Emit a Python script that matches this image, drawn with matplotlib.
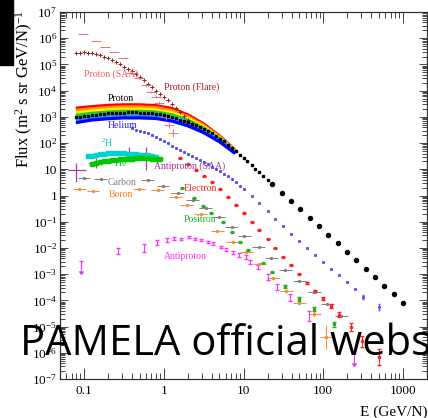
import numpy as np
import matplotlib.pyplot as plt
from matplotlib.ticker import LogLocator, FuncFormatter, NullFormatter
from matplotlib.patches import Rectangle

plt.rcParams['font.family'] = ['Liberation Serif', 'DejaVu Serif']
plt.rcParams['mathtext.fontset'] = 'custom'
plt.rcParams['mathtext.rm'] = 'Liberation Serif'
plt.rcParams['mathtext.it'] = 'Liberation Serif:italic'

# kinetic energy in GeV/n, flux in (m^2 s sr GeV/n)^-1

# proton, low energy (dense points)
proton_E = [0.0794, 0.0891, 0.1, 0.112, 0.126, 0.141, 0.158, 0.178, 0.2, 0.224,
            0.251, 0.282, 0.316, 0.355, 0.398, 0.447, 0.501, 0.562, 0.631, 0.708,
            0.794, 0.891, 1.0, 1.12, 1.26, 1.41, 1.58, 1.78, 2.0, 2.24,
            2.51, 2.82, 3.16, 3.55, 3.98, 4.47, 5.01, 5.62, 6.31, 7.08,
            7.94, 8.91, 10.0, 11.2, 12.6, 14.1, 15.8, 17.8, 20.0]
proton_F = [977, 1023, 1072, 1122, 1175, 1230, 1288, 1318, 1349, 1380,
            1413, 1445, 1462, 1479, 1479, 1479, 1462, 1445, 1413, 1380,
            1318, 1259, 1175, 1072, 977, 871, 776, 692, 617, 550,
            479, 407, 347, 288, 234, 186, 148, 115, 87.1, 66.1,
            49.0, 36.3, 26.9, 20.0, 14.5, 10.5, 7.59, 5.50, 3.98]

# proton, high energy
proton_hi_E = [23.0, 30.1, 39.4, 51.6, 67.6, 88.5, 116, 152, 199, 260, 340, 446, 583, 764, 1000]
proton_hi_F = [2.7, 1.3, 0.62, 0.30, 0.14, 0.066, 0.032, 0.015, 7.2e-3, 3.5e-3,
               1.6e-3, 7.8e-4, 3.6e-4, 1.7e-4, 8.0e-5]

# proton spectra for successive periods (solar modulation band)
band_E = [0.079, 0.126, 0.2, 0.316, 0.5, 0.79, 1.26, 2.0, 3.16, 5.0, 7.9]
band_F = [
    [2140, 2450, 2750, 2880, 2880, 2690, 2090, 1200, 537, 186, 52.5],
    [1740, 2020, 2260, 2380, 2380, 2230, 1740, 1020, 473, 171, 50.0],
    [1400, 1660, 1860, 1960, 1960, 1850, 1450, 870, 417, 157, 48.0],
    [1135, 1365, 1530, 1620, 1620, 1530, 1200, 741, 367, 145, 45.7],
    [918, 1120, 1260, 1340, 1340, 1270, 1000, 631, 324, 133, 43.6],
    [745, 923, 1035, 1100, 1100, 1050, 832, 537, 285, 122, 41.7],
    [603, 759, 851, 912, 912, 871, 692, 457, 251, 112, 39.8],
]
band_colors = ['#ff0000', '#ff9900', '#ffee00', '#22cc22', '#00e5ff', '#2299ff', '#0000ff']

# solar flare protons (13 Dec 2006)
flare_E = [0.0794, 0.0891, 0.1, 0.112, 0.126, 0.141, 0.158, 0.178, 0.2, 0.224,
           0.251, 0.282, 0.316, 0.355, 0.398, 0.447, 0.501, 0.562, 0.631, 0.708,
           0.794, 0.891, 1.0, 1.12, 1.26, 1.41, 1.58, 1.78, 2.0, 2.24, 2.51]
flare_F = [2.63e5, 2.82e5, 2.88e5, 2.85e5, 2.69e5, 2.51e5, 2.29e5, 2.0e5, 1.70e5, 1.45e5,
           1.23e5, 1.02e5, 8.3e4, 6.8e4, 5.4e4, 4.3e4, 3.3e4, 2.45e4, 1.82e4, 1.35e4,
           9.8e3, 7.2e3, 5.75e3, 4.4e3, 3.1e3, 2.14e3, 1.51e3, 1.07e3, 776, 575, 447]

# trapped protons in the South Atlantic Anomaly
saa_E = [0.097, 0.141, 0.183, 0.237, 0.307, 0.387, 0.487, 0.596, 0.688, 0.794,
         0.866, 0.944, 1.06, 1.155, 1.30]
saa_F = [1.45e6, 7.8e5, 4.6e5, 2.95e5, 1.74e5, 4.7e4, 3.0e4, 1.6e4, 8.9e3, 5.8e3,
         3.4e3, 2.2e3, 980, 490, 240]
saa_dex = [0, 0, 0, 0, 0, 0.04, 0.04, 0.05, 0.05, 0.06, 0.07, 0.08, 0.1, 0.12, 0.14]

# trapped antiprotons (SAA)
pbar_saa_E = [0.08, 0.14, 0.37, 0.60]
pbar_saa_Elo = [0.063, 0.115, 0.29, 0.49]
pbar_saa_Ehi = [0.107, 0.174, 0.52, 0.84]
pbar_saa_F = [9.3, 17, 42, 29.5]
pbar_saa_Flo = [3.2, 11, 22, 9.3]
pbar_saa_Fhi = [17, 27, 71, 71]

# helium
helium_E = [0.398, 0.447, 0.501, 0.562, 0.631, 0.708, 0.794, 0.891, 1.0, 1.12,
            1.26, 1.41, 1.58, 1.78, 2.0, 2.24, 2.51, 2.82, 3.16, 3.55,
            3.98, 4.47, 5.01, 5.62, 6.31, 7.08, 7.94, 8.91, 10.0, 12.6,
            15.8, 20.0, 25.1, 31.6, 39.8, 50.1, 63.1, 79.4, 100, 126,
            158, 200, 251, 316, 501]
helium_F = [363, 327, 295, 266, 240, 209, 178, 148, 120, 97.7,
            79.4, 66.8, 56.2, 47.3, 39.8, 33.1, 27.5, 22.9, 19.1, 15.5,
            12.6, 10.2, 8.32, 6.68, 5.37, 4.17, 3.16, 2.37, 1.78, 0.977,
            0.513, 0.263, 0.132, 0.066, 0.0347, 0.0186, 0.0100, 5.37e-3, 2.95e-3, 1.62e-3,
            8.9e-4, 4.9e-4, 2.63e-4, 1.35e-4, 5.6e-5]
helium_dex = [0] * 43 + [0.08, 0.12]

# deuterium and helium-3
h2_E = [0.112, 0.126, 0.141, 0.158, 0.178, 0.2, 0.224, 0.251, 0.282, 0.316,
        0.355, 0.398, 0.447, 0.501, 0.562, 0.631, 0.708, 0.794]
h2_F = [30.9, 33.1, 35.5, 37.2, 38.9, 40.7, 41.7, 41.7, 41.2, 40.7,
        39.8, 38.5, 37.2, 36.3, 35.1, 33.9, 31.6, 29.5]
he3_E = [0.126, 0.141, 0.158, 0.178, 0.2, 0.224, 0.251, 0.282, 0.316, 0.355,
         0.398, 0.447, 0.501, 0.562, 0.631, 0.708, 0.794, 0.891]
he3_F = [16.6, 17.8, 19.1, 20.4, 21.4, 22.4, 23.4, 24.0, 24.5, 25.1,
         25.7, 26.0, 26.3, 26.3, 26.0, 25.7, 25.1, 24.0]

# carbon and boron
carbon_E = [0.1, 0.162, 0.63, 0.98, 1.5, 2.3, 3.35, 4.9, 7.1, 10.2,
            15.5, 22.4, 33.5, 50, 77.6, 112, 168]
carbon_F = [4.6, 4.3, 3.9, 2.3, 1.23, 0.66, 0.33, 0.15, 0.062, 0.028,
            0.0107, 4.1e-3, 1.4e-3, 5.4e-4, 2.0e-4, 7.1e-5, 2.5e-5]
boron_E = [0.087, 0.13, 0.49, 0.84, 1.41, 1.94, 2.9, 4.7, 7.3, 10.9,
           15.8, 23.7, 34.5, 50, 77, 109]
boron_F = [1.75, 1.48, 1.75, 1.62, 0.87, 0.43, 0.19, 0.044, 0.017, 6.9e-3,
           2.4e-3, 7.0e-4, 2.2e-4, 7.8e-5, 3.0e-5, 4.0e-6]
boron_dex = [0, 0, 0, 0, 0, 0, 0, 0, 0, 0, 0, 0.05, 0.06, 0.08, 0.12, 0.45]

# electrons and positrons
electron_E = [1.58, 2.0, 2.51, 3.16, 3.98, 5.01, 6.31, 7.94, 10.0, 12.6,
              15.8, 20.0, 25.1, 31.6, 39.8, 50.1, 63.1, 79.4, 100, 126,
              158, 224, 309, 501]
electron_F = [26.3, 16.6, 9.77, 5.62, 3.16, 1.70, 0.871, 0.427, 0.209, 0.0977,
              0.0468, 0.0219, 0.0102, 4.68e-3, 2.14e-3, 9.8e-4, 4.57e-4, 2.24e-4, 1.17e-4, 6.0e-5,
              2.8e-5, 9.5e-6, 2.75e-6, 6.8e-7]
electron_dex = [0, 0, 0, 0, 0, 0, 0, 0, 0, 0, 0, 0, 0, 0, 0, 0, 0.04, 0.05, 0.06, 0.08,
                0.1, 0.15, 0.2, 0.3]
positron_E = [1.68, 2.37, 3.09, 3.89, 5.50, 7.24, 9.12, 11.5, 17.4, 22.9,
              33.5, 50.1, 77.6, 138]
positron_F = [1.91, 0.794, 0.398, 0.214, 0.10, 0.0398, 0.0166, 8.3e-3, 2.63e-3, 1.2e-3,
              3.47e-4, 1.12e-4, 4.57e-5, 1.23e-5]
positron_dex = [0, 0, 0, 0, 0, 0, 0, 0, 0, 0, 0.05, 0.06, 0.08, 0.1]

# antiprotons (first and last are upper limits)
pbar_E = [0.27, 0.56, 0.82, 1.09, 1.33, 1.63, 2.05, 2.44, 2.9, 3.55,
          4.2, 5.2, 5.96, 7.3, 8.7, 10.6, 12.2, 15, 20, 26.6,
          38.7, 67]
pbar_F = [7.6e-3, 9.8e-3, 1.66e-2, 2.0e-2, 2.34e-2, 2.19e-2, 2.57e-2, 2.19e-2, 2.0e-2, 1.66e-2,
          1.51e-2, 1.07e-2, 8.9e-3, 6.9e-3, 5.4e-3, 4.5e-3, 2.9e-3, 1.86e-3, 7.8e-4, 3.2e-4,
          1.3e-4, 2.5e-5]
pbar_dex = [0.12, 0.15, 0.1, 0.08, 0.06, 0.05, 0.05, 0.05, 0.05, 0.05,
            0.05, 0.05, 0.06, 0.06, 0.07, 0.08, 0.08, 0.09, 0.1, 0.12,
            0.14, 0.2]
pbar_ul_E = [0.092, 245]
pbar_ul_F = [3.2e-3, 1.0e-6]


def log_err(vals, dex):
    vals = np.asarray(vals, float)
    dex = np.asarray(dex, float)
    return [vals - vals / 10**dex, vals * 10**dex - vals]


fig = plt.figure(figsize=(4.28, 4.18), dpi=100)
ax = fig.add_axes([60 / 428, 1 - 379 / 418, 367 / 428, 367 / 418])
ax.set_xscale('log')
ax.set_yscale('log')
ax.set_xlim(0.05, 2000)
ax.set_ylim(1e-7, 1e7)

# modulation band, red (2006) on top to blue (2009) at the bottom
for row, c in zip(band_F, band_colors):
    ax.plot(band_E, row, color=c, lw=2.3, solid_capstyle='butt', zorder=2)

ax.plot(proton_E, proton_F, ls='none', marker='s', ms=1.7, color='black', zorder=4)
ax.plot(proton_hi_E, proton_hi_F, ls='none', marker='o', ms=2.9, color='black', zorder=4)

ax.plot(flare_E, flare_F, ls='none', marker='+', ms=2.6, mew=0.7, color='#a01515', zorder=3)
ax.errorbar(saa_E, saa_F, xerr=log_err(saa_E, [0.06] * len(saa_E)), yerr=log_err(saa_F, saa_dex),
            fmt='none', ecolor='#f07070', elinewidth=0.7, zorder=3)

ax.errorbar(pbar_saa_E, pbar_saa_F,
            xerr=[np.subtract(pbar_saa_E, pbar_saa_Elo), np.subtract(pbar_saa_Ehi, pbar_saa_E)],
            yerr=[np.subtract(pbar_saa_F, pbar_saa_Flo), np.subtract(pbar_saa_Fhi, pbar_saa_F)],
            fmt='none', ecolor='#a040a0', elinewidth=0.9, zorder=3)

ax.errorbar(helium_E, helium_F, yerr=log_err(helium_F, helium_dex), fmt='s', ms=1.1,
            color='#5050ff', elinewidth=0.7, capsize=1, zorder=3)
ax.plot(h2_E, h2_F, ls='none', marker='s', ms=2.2, color='#00d0d0', zorder=3)
ax.plot(he3_E, he3_F, ls='none', marker='s', ms=2.2, color='#00c800', zorder=3)

ax.errorbar(carbon_E, carbon_F, xerr=log_err(carbon_E, [0.08] * len(carbon_E)),
            fmt='s', ms=1.2, color='#808080', elinewidth=0.7, capsize=0, zorder=3)
ax.errorbar(boron_E, boron_F, xerr=log_err(boron_E, [0.08] * len(boron_E)),
            yerr=log_err(boron_F, boron_dex),
            fmt='s', ms=1.2, color='#ff8a30', elinewidth=0.7, capsize=0, zorder=3)

ax.errorbar(electron_E, electron_F, yerr=log_err(electron_F, electron_dex),
            fmt='s', ms=1.4, color='#ff2020', elinewidth=0.7, capsize=1.2, zorder=3)
ax.errorbar(positron_E, positron_F, yerr=log_err(positron_F, positron_dex),
            fmt='s', ms=1.4, color='#20b020', elinewidth=0.7, capsize=1.2, zorder=3)

ax.errorbar(pbar_E, pbar_F, yerr=log_err(pbar_F, pbar_dex),
            fmt='none', ecolor='#ff30ff', elinewidth=0.8, capsize=1.2, zorder=3)
ax.errorbar(pbar_ul_E, pbar_ul_F, yerr=np.multiply(pbar_ul_F, 0.6), uplims=True,
            fmt='none', ecolor='#ff30ff', elinewidth=0.8, capsize=1.5, zorder=3)

labels = [
    ('Proton (SAA)', 0.1, 4.3e4, '#f06060'),
    ('Proton (Flare)', 1.0, 1.4e4, '#b01818'),
    ('Proton', 0.2, 5.2e3, 'black'),
    ('Helium', 0.2, 450, '#2020ff'),
    ('$^{2}$H', 0.163, 100, '#00c8c8'),
    ('$^{3}$He', 0.218, 17.5, '#00c000'),
    ('Antiproton (SAA)', 0.75, 13.2, '#993399'),
    ('Carbon', 0.2, 3.2, '#808080'),
    ('Electron', 1.78, 1.9, '#ff2020'),
    ('Boron', 0.205, 1.13, '#ff8020'),
    ('Positron', 1.78, 0.126, '#20b020'),
    ('Antiproton', 1.0, 4.9e-3, '#ff30ff'),
]
for txt, x, y, c in labels:
    ax.text(x, y, txt, color=c, fontsize=7, ha='left', va='center', zorder=5)

# axes in ROOT style: inward ticks on all four sides
ax.yaxis.set_major_locator(LogLocator(base=10, numticks=20))
ax.yaxis.set_minor_locator(LogLocator(base=10, subs=np.arange(2, 10), numticks=20))
ax.yaxis.set_minor_formatter(NullFormatter())


def ylab(v, pos):
    e = int(round(np.log10(v)))
    if e == 0:
        return '1'
    if e == 1:
        return '10'
    return r'$10^{%d}$' % e


ax.yaxis.set_major_formatter(FuncFormatter(ylab))
ax.xaxis.set_major_formatter(FuncFormatter(lambda v, p: '%g' % v))
ax.xaxis.set_minor_formatter(NullFormatter())
ax.tick_params(which='both', direction='in', top=True, right=True, width=0.7, color='#444444',
               labelsize=9.5)
ax.tick_params(axis='x', which='major', length=8, pad=4)
ax.tick_params(axis='x', which='minor', length=4)
ax.tick_params(axis='y', which='major', length=6, pad=2)
ax.tick_params(axis='y', which='minor', length=3.5)
for s in ax.spines.values():
    s.set_linewidth(0.9)
    s.set_color('#333333')

fig.text(24 / 428, 1 - 10 / 418, 'Flux (m$^{2}$ s sr GeV/N)$^{-1}$', rotation=90,
         ha='center', va='top', fontsize=12)
fig.text(427 / 428, 1 - 412 / 418, 'E (GeV/N)', ha='right', va='center', fontsize=11)

fig.patches.append(Rectangle((0, 1 - 65 / 418), 13 / 428, 65 / 418, transform=fig.transFigure,
                             color='black', zorder=10))
fig.text(20 / 428, 1 - 355 / 418, 'PAMELA official webs', family='Open Sans', fontsize=30,
         color='black', ha='left', va='baseline', zorder=10)

fig.savefig('out.png', dpi=100)
